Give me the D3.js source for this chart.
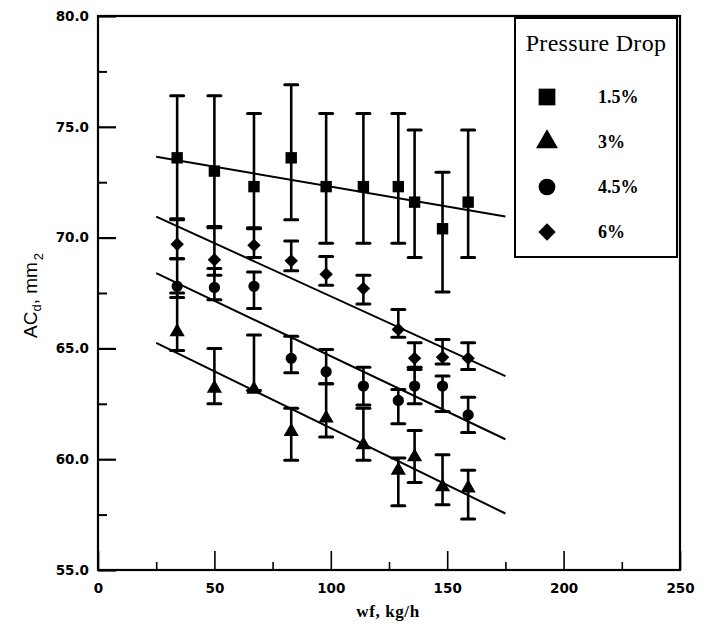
<!DOCTYPE html>
<html><head><meta charset="utf-8">
<script src="https://cdn.jsdelivr.net/npm/d3@7"></script>
<style>
body{margin:0;background:#fff;}
svg{display:block;}
</style></head>
<body>
<svg id="chart" width="711" height="633"></svg>
<script>
// ---- data ----
const xValues = [34, 50, 67, 83, 98, 114, 129, 136, 148, 159];
const seriesNames = ["1.5%", "3%", "4.5%", "6%"];
const seriesSymbols = ["square", "triangle", "circle", "diamond"];

const sqVals = [73.6, 73.0, 72.3, 73.6, 72.3, 72.3, 72.3, 71.6, 70.4, 71.6];
const sqHi   = [76.4, 76.4, 75.6, 76.9, 75.6, 75.6, 75.6, 74.85, 72.95, 74.85];
const sqLo   = [70.8, 70.5, 70.4, 70.8, 69.75, 69.75, 69.75, 69.1, 67.55, 69.1];

const triVals = [65.75, 63.2, 63.15, 61.25, 61.85, 60.65, 59.5, 60.1, 58.75, 58.7];
const triHi   = [67.5, 65.0, 65.6, 62.3, 63.4, 62.3, 60.05, 61.3, 60.2, 59.5];
const triLo   = [64.9, 62.5, 63.1, 59.95, 61.0, 59.95, 57.9, 58.95, 57.95, 57.3];

const cirVals = [67.8, 67.75, 67.8, 64.55, 63.95, 63.3, 62.65, 63.3, 63.3, 62.0];
const cirHi   = [69.05, 68.6, 68.45, 65.55, 64.95, 64.15, 63.15, 64.05, 63.75, 62.8];
const cirLo   = [67.3, 67.2, 66.8, 63.9, 63.4, 62.45, 61.6, 62.5, 62.15, 61.2];

const diaVals = [69.7, 69.0, 69.65, 68.95, 68.35, 67.7, 65.85, 64.55, 64.6, 64.55];
const diaHi   = [70.85, 70.45, 70.45, 69.85, 69.15, 68.3, 66.75, 65.25, 65.4, 65.25];
const diaLo   = [69.05, 68.3, 69.1, 68.5, 67.85, 67.0, 65.5, 64.15, 64.3, 64.05];

// fitted lines: value at fitX[0] and fitX[1]
const fitX = [25, 175];
const sqFit  = [73.65, 70.95];
const triFit = [65.25, 57.55];
const cirFit = [68.4, 60.9];
const diaFit = [70.95, 63.75];

const xMajorTicks = [0, 50, 100, 150, 200, 250];
const xMinorTicks = [25, 75, 125, 175, 225];
const yMajorTicks = [55, 60, 65, 70, 75, 80];
const yMinorTicks = [57.5, 62.5, 67.5, 72.5, 77.5];

const series = [
  {name: seriesNames[0], sym: seriesSymbols[0], v: sqVals,  hi: sqHi,  lo: sqLo,  fit: sqFit},
  {name: seriesNames[1], sym: seriesSymbols[1], v: triVals, hi: triHi, lo: triLo, fit: triFit},
  {name: seriesNames[2], sym: seriesSymbols[2], v: cirVals, hi: cirHi, lo: cirLo, fit: cirFit},
  {name: seriesNames[3], sym: seriesSymbols[3], v: diaVals, hi: diaHi, lo: diaLo, fit: diaFit}
];

// ---- layout ----
const L = 98, R = 680, T = 16, B = 570;
const x = d3.scaleLinear().domain([0, 250]).range([L, R]);
const y = d3.scaleLinear().domain([55, 80]).range([B, T]);

const svg = d3.select("#chart");
const tickFont = "'DejaVu Sans', sans-serif";

// axes
const yAxis = d3.axisLeft(y).tickValues(yMajorTicks).tickSize(-18).tickPadding(9)
  .tickFormat(d3.format(".1f"));
const gy = svg.append("g").attr("transform", `translate(${L},0)`).call(yAxis);
gy.select(".domain").remove();
gy.selectAll("line").attr("stroke", "#000").attr("stroke-width", 2.2);
gy.selectAll("text").attr("font-family", tickFont).attr("font-weight", "bold")
  .attr("font-size", 13.5).attr("fill", "#000");

const gym = svg.append("g").attr("transform", `translate(${L},0)`)
  .call(d3.axisLeft(y).tickValues(yMinorTicks).tickSize(-9).tickFormat(""));
gym.select(".domain").remove();
gym.selectAll("line").attr("stroke", "#000").attr("stroke-width", 2);

const xAxis = d3.axisBottom(x).tickValues(xMajorTicks).tickSize(-19).tickPadding(13)
  .tickFormat(d3.format("d"));
const gx = svg.append("g").attr("transform", `translate(0,${B})`).call(xAxis);
gx.select(".domain").remove();
gx.selectAll("line").attr("stroke", "#000").attr("stroke-width", 1.6);
gx.selectAll("text").attr("font-family", tickFont).attr("font-weight", "bold")
  .attr("font-size", 13.5).attr("fill", "#000");

const gxm = svg.append("g").attr("transform", `translate(0,${B})`)
  .call(d3.axisBottom(x).tickValues(xMinorTicks).tickSize(-8).tickFormat(""));
gxm.select(".domain").remove();
gxm.selectAll("line").attr("stroke", "#000").attr("stroke-width", 1.6);

// frame
svg.append("rect").attr("x", L).attr("y", T).attr("width", R - L).attr("height", B - T)
  .attr("fill", "none").attr("stroke", "#000").attr("stroke-width", 2.2);

// axis titles
svg.append("text").attr("x", 388).attr("y", 617).attr("text-anchor", "middle")
  .attr("font-family", "'Liberation Serif', serif").attr("font-weight", "bold")
  .attr("font-size", 17).attr("letter-spacing", 0.6).text("wf, kg/h");

const yt = svg.append("text").attr("transform", "translate(37,338) rotate(-90)")
  .attr("font-family", "'Liberation Sans', sans-serif")
  .attr("font-size", 19).attr("fill", "#000");
yt.append("tspan").text("AC");
yt.append("tspan").attr("font-size", 13).attr("dy", 4).text("d");
yt.append("tspan").attr("dy", -4).text(", mm");
yt.append("tspan").attr("font-size", 13).attr("dy", 6).attr("dx", 2).text("2");

// fitted lines
const line = d3.line().x(d => x(d[0])).y(d => y(d[1]));
series.forEach(s => {
  svg.append("path").datum(fitX.map((xv, i) => [xv, s.fit[i]]))
    .attr("d", line).attr("fill", "none").attr("stroke", "#000").attr("stroke-width", 2);
});

// error bars
const capW = 13;
series.forEach(s => {
  const g = svg.append("g");
  xValues.forEach((xv, i) => {
    const cx = x(xv);
    g.append("line").attr("x1", cx).attr("x2", cx).attr("y1", y(s.hi[i])).attr("y2", y(s.lo[i]))
      .attr("stroke", "#000").attr("stroke-width", 2.6);
    [s.hi[i], s.lo[i]].forEach(v => {
      g.append("line").attr("x1", cx - capW / 2).attr("x2", cx + capW / 2)
        .attr("y1", y(v)).attr("y2", y(v)).attr("stroke", "#000").attr("stroke-width", 3)
        .attr("stroke-linecap", "round");
    });
  });
});

// markers
const squareDiamond = {
  draw(ctx, size) {
    const h = Math.sqrt(size / 2);
    ctx.moveTo(0, -h); ctx.lineTo(h, 0); ctx.lineTo(0, h); ctx.lineTo(-h, 0); ctx.closePath();
  }
};
const symType = {square: d3.symbolSquare, triangle: d3.symbolTriangle, circle: d3.symbolCircle, diamond: squareDiamond};
const symSize = {square: 130, triangle: 100, circle: 100, diamond: 90};
series.forEach(s => {
  svg.append("g").selectAll("path").data(xValues.map((xv, i) => [xv, s.v[i]])).join("path")
    .attr("transform", d => `translate(${x(d[0])},${y(d[1])})`)
    .attr("d", d3.symbol().type(symType[s.sym]).size(symSize[s.sym]))
    .attr("fill", "#000");
});

// legend
const lg = svg.append("g");
lg.append("rect").attr("x", 515).attr("y", 18).attr("width", 162).attr("height", 239)
  .attr("fill", "#fff").attr("stroke", "#000").attr("stroke-width", 2);
lg.append("text").attr("x", 596).attr("y", 51).attr("text-anchor", "middle")
  .attr("font-family", "'Liberation Serif', serif").attr("font-size", 24)
  .attr("letter-spacing", 0.3).text("Pressure Drop");
const legSize = {square: 280, triangle: 210, circle: 220, diamond: 150};
const legRowY = d3.scalePoint().domain(seriesNames).range([97, 232]);
series.forEach(s => {
  const ry = legRowY(s.name);
  lg.append("path").attr("transform", `translate(547,${ry})`)
    .attr("d", d3.symbol().type(symType[s.sym]).size(legSize[s.sym])).attr("fill", "#000");
  lg.append("text").attr("x", 598).attr("y", ry + 6)
    .attr("font-family", "'Liberation Serif', serif").attr("font-weight", "bold")
    .attr("font-size", 18).text(s.name);
});
</script>
</body></html>
